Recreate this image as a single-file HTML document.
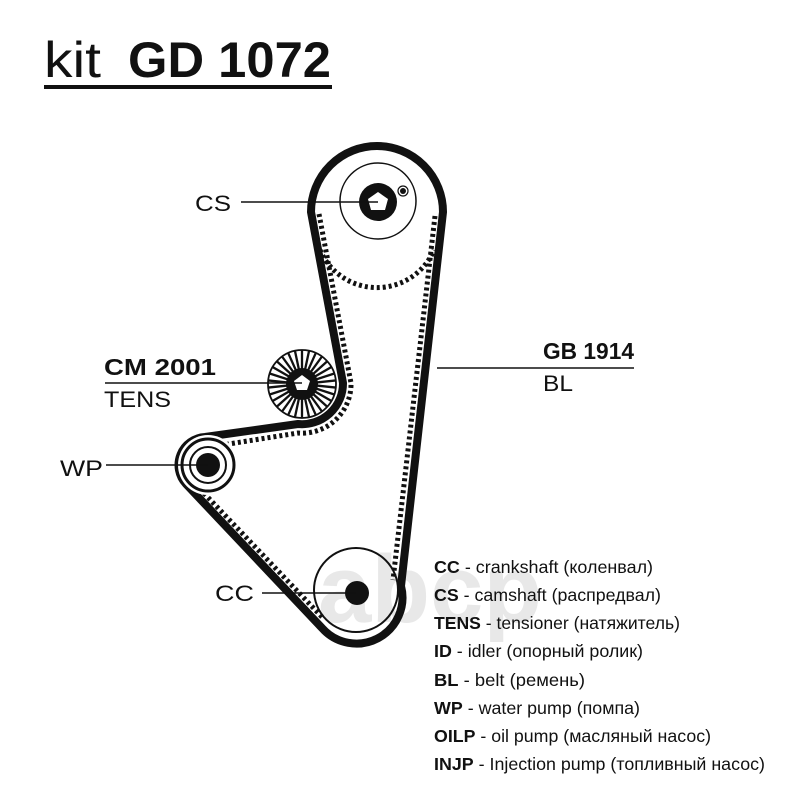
<!DOCTYPE html>
<html><head><meta charset="utf-8"><style>
html,body{margin:0;padding:0;background:#fff;}
svg{display:block}
text{font-family:"Liberation Sans","DejaVu Sans",sans-serif;fill:#111}
</style></head><body>
<svg width="800" height="800" viewBox="0 0 800 800" xmlns="http://www.w3.org/2000/svg">
<!-- watermark -->
<text x="318" y="622" font-size="96" font-weight="bold" style="fill:#d2d2d2" opacity="0.5">abcp</text>

<!-- title -->
<text x="44" y="77" font-size="50" textLength="57" lengthAdjust="spacingAndGlyphs">kit</text>
<text x="128" y="77" font-size="50" font-weight="bold" textLength="203" lengthAdjust="spacingAndGlyphs">GD 1072</text>
<rect x="44" y="85" width="288" height="4" fill="#111"/>

<!-- teeth (inner side) -->
<g fill="none" stroke="#111" stroke-width="5" stroke-dasharray="3 3">
  <path d="M319,214 L351,383 A49,49 0 0 1 298,433 L216,446"/>
  <path d="M320,250 A62,62 0 0 0 434,250"/>
  <path d="M435,216 L393,580"/>
  <path d="M322,617 L199,488"/>
</g>

<!-- belt -->
<path d="M311,212 A66,66 0 1 1 443,212 L401,586 A46,46 0 0 1 322,628 L186,484 A28,28 0 0 1 205,437 L298,424 A41,41 0 0 0 343,383 Z"
  fill="none" stroke="#111" stroke-width="8" stroke-linejoin="round"/>

<!-- CS pulley -->
<circle cx="378" cy="201" r="38" fill="none" stroke="#111" stroke-width="1.5"/>
<circle cx="378" cy="202" r="19" fill="#111"/>
<polygon points="378,192 388,199 385,210 371,210 368,199" fill="#fff"/>
<circle cx="403" cy="191" r="5" fill="#fff" stroke="#111" stroke-width="1.2"/>
<circle cx="403" cy="191" r="3" fill="#111"/>

<!-- tensioner -->
<circle cx="302" cy="384" r="34" fill="#fff" stroke="#111" stroke-width="1.8"/>
<g stroke="#111" stroke-width="2.3">
  <g id="sp"><line x1="302" y1="350" x2="302" y2="418"/></g>
  <use href="#sp" transform="rotate(12 302 384)"/><use href="#sp" transform="rotate(24 302 384)"/>
  <use href="#sp" transform="rotate(36 302 384)"/><use href="#sp" transform="rotate(48 302 384)"/>
  <use href="#sp" transform="rotate(60 302 384)"/><use href="#sp" transform="rotate(72 302 384)"/>
  <use href="#sp" transform="rotate(84 302 384)"/><use href="#sp" transform="rotate(96 302 384)"/>
  <use href="#sp" transform="rotate(108 302 384)"/><use href="#sp" transform="rotate(120 302 384)"/>
  <use href="#sp" transform="rotate(132 302 384)"/><use href="#sp" transform="rotate(144 302 384)"/>
  <use href="#sp" transform="rotate(156 302 384)"/><use href="#sp" transform="rotate(168 302 384)"/>
</g>
<circle cx="302" cy="384" r="16" fill="#111"/>
<polygon points="302,375 310,381 307,390 297,390 294,381" fill="#fff"/>

<!-- WP -->
<circle cx="208" cy="465" r="30" fill="#fff"/>
<circle cx="208" cy="465" r="26" fill="none" stroke="#111" stroke-width="3"/>
<circle cx="208" cy="465" r="18" fill="none" stroke="#111" stroke-width="2"/>
<circle cx="208" cy="465" r="12" fill="#111"/>

<!-- CC -->
<circle cx="356" cy="590" r="42" fill="none" stroke="#111" stroke-width="2"/>
<circle cx="357" cy="593" r="12" fill="#111"/>

<!-- leader lines -->
<g stroke="#111" stroke-width="1.5">
  <line x1="241" y1="202" x2="378" y2="202"/>
  <line x1="105" y1="383" x2="302" y2="383"/>
  <line x1="106" y1="465" x2="208" y2="465"/>
  <line x1="262" y1="593" x2="356" y2="593"/>
  <line x1="437" y1="368" x2="634" y2="368"/>
</g>

<!-- labels -->
<text x="195" y="211" font-size="22" textLength="36" lengthAdjust="spacingAndGlyphs">CS</text>
<text x="104" y="375" font-size="23" font-weight="bold" textLength="112" lengthAdjust="spacingAndGlyphs">CM 2001</text>
<text x="104" y="407" font-size="22" textLength="67" lengthAdjust="spacingAndGlyphs">TENS</text>
<text x="60" y="476" font-size="22" textLength="43" lengthAdjust="spacingAndGlyphs">WP</text>
<text x="215" y="601" font-size="22" textLength="39" lengthAdjust="spacingAndGlyphs">CC</text>
<text x="543" y="359" font-size="23" font-weight="bold" textLength="91" lengthAdjust="spacingAndGlyphs">GB 1914</text>
<text x="543" y="391" font-size="22" textLength="30" lengthAdjust="spacingAndGlyphs">BL</text>

<!-- legend -->
<g font-size="17.5">
<text x="434" y="573" textLength="219" lengthAdjust="spacingAndGlyphs"><tspan font-weight="bold">CC</tspan> - crankshaft (коленвал)</text>
<text x="434" y="601" textLength="227" lengthAdjust="spacingAndGlyphs"><tspan font-weight="bold">CS</tspan> - camshaft (распредвал)</text>
<text x="434" y="629" textLength="246" lengthAdjust="spacingAndGlyphs"><tspan font-weight="bold">TENS</tspan> - tensioner (натяжитель)</text>
<text x="434" y="657" textLength="209" lengthAdjust="spacingAndGlyphs"><tspan font-weight="bold">ID</tspan> - idler (опорный ролик)</text>
<text x="434" y="686" textLength="151" lengthAdjust="spacingAndGlyphs"><tspan font-weight="bold">BL</tspan> - belt (ремень)</text>
<text x="434" y="714" textLength="206" lengthAdjust="spacingAndGlyphs"><tspan font-weight="bold">WP</tspan> - water pump (помпа)</text>
<text x="434" y="742" textLength="277" lengthAdjust="spacingAndGlyphs"><tspan font-weight="bold">OILP</tspan> - oil pump (масляный насос)</text>
<text x="434" y="770" textLength="331" lengthAdjust="spacingAndGlyphs"><tspan font-weight="bold">INJP</tspan> - Injection pump (топливный насос)</text>
</g>
</svg>
</body></html>
